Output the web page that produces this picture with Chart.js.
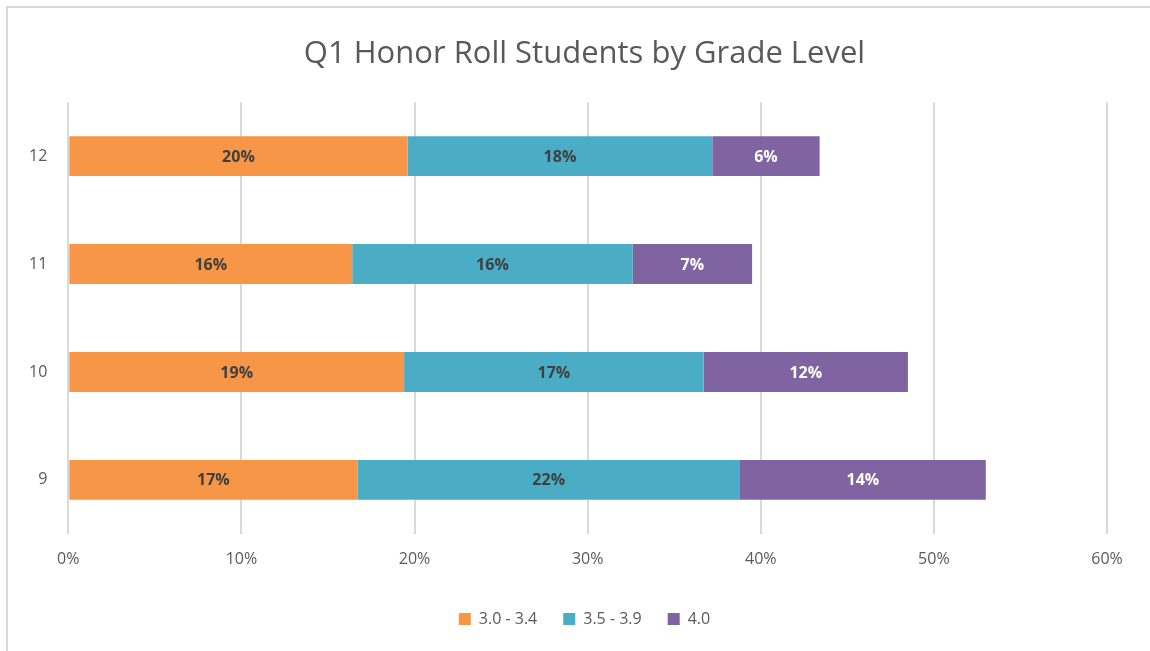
<!DOCTYPE html>
<html>
<head>
<meta charset="utf-8">
<script src="https://cdn.jsdelivr.net/npm/chart.js@4"></script>
<style>
  html, body { margin: 0; padding: 0; background: #fff; }
  #frame { position: absolute; left: 6px; top: 6px; width: 1144px; height: 645px;
           border-top: 2px solid #d9d9d9; border-left: 2px solid #d9d9d9; box-sizing: border-box; }
  #wrap { position: absolute; left: 0; top: 0; width: 1150px; height: 651px; }
</style>
</head>
<body>
<div id="frame"></div>
<div id="wrap"><canvas id="myChart"></canvas></div>
<script>
// grade levels, top to bottom
const grades = ['12', '11', '10', '9'];
// share of students per GPA band (%)
const gpa30to34 = [19.6, 16.4, 19.4, 16.7];
const gpa35to39 = [17.6, 16.2, 17.3, 22.1];
const gpa40 = [6.2, 6.9, 11.8, 14.2];
const xTicks = [0, 10, 20, 30, 40, 50, 60];

const fontFam = '"Liberation Sans Narrow", "Open Sans", sans-serif';

// draws the rounded value inside each bar segment
const barLabels = {
    id: 'barLabels',
    afterDatasetsDraw(chart) {
        const ctx = chart.ctx;
        ctx.save();
        ctx.font = 'bold 16px ' + fontFam;
        ctx.textAlign = 'center';
        ctx.textBaseline = 'middle';
        chart.data.datasets.forEach((ds, i) => {
            const meta = chart.getDatasetMeta(i);
            meta.data.forEach((bar, j) => {
                const p = bar.getCenterPoint();
                ctx.fillStyle = ds.labelColor;
                ctx.fillText(Math.round(ds.data[j]) + '%', p.x, p.y + 1);
            });
        });
        ctx.restore();
    }
};

// title and legend in the original are centred on the whole frame, not the padded area
const centreShift = {
    id: 'centreShift',
    afterLayout(chart) {
        [chart.titleBlock, chart.legend].forEach(box => {
            if (box) {
                box.left += 23;
                box.right += 23;
            }
        });
    }
};

const ctx = document.getElementById('myChart');
new Chart(ctx, {
    type: 'bar',
    data: {
        labels: grades,
        datasets: [
            { label: '3.0 - 3.4', data: gpa30to34, backgroundColor: '#F79646', labelColor: '#404040' },
            { label: '3.5 - 3.9', data: gpa35to39, backgroundColor: '#4BACC6', labelColor: '#404040' },
            { label: '4.0', data: gpa40, backgroundColor: '#8064A2', labelColor: '#ffffff' }
        ]
    },
    options: {
        indexAxis: 'y',
        responsive: true,
        maintainAspectRatio: false,
        animation: false,
        datasets: { bar: { barPercentage: 0.37, categoryPercentage: 1 } },
        layout: { padding: { left: 16, right: 43, top: 36, bottom: 14 } },
        scales: {
            x: {
                stacked: true,
                min: 0, max: 60,
                afterBuildTicks: axis => { axis.ticks = xTicks.map(v => ({ value: v })); },
                ticks: {
                    callback: v => v + '%',
                    color: '#595959',
                    font: { size: 16, family: fontFam },
                    padding: 16
                },
                grid: { color: '#d9d9d9', lineWidth: 2, drawTicks: false },
                border: { display: false }
            },
            y: {
                stacked: true,
                ticks: {
                    color: '#595959',
                    font: { size: 16, family: fontFam },
                    padding: 13
                },
                grid: { display: false },
                border: { display: false }
            }
        },
        plugins: {
            title: {
                display: true,
                text: 'Q1 Honor Roll Students by Grade Level',
                color: '#595959',
                font: { size: 31, weight: 'normal', family: fontFam },
                padding: { top: 0, bottom: 29 }
            },
            legend: {
                position: 'bottom',
                labels: {
                    boxWidth: 12, boxHeight: 12,
                    color: '#595959',
                    font: { size: 16, family: fontFam },
                    padding: 26
                }
            },
            tooltip: { enabled: false }
        }
    },
    plugins: [barLabels, centreShift]
});
</script>
</body>
</html>
